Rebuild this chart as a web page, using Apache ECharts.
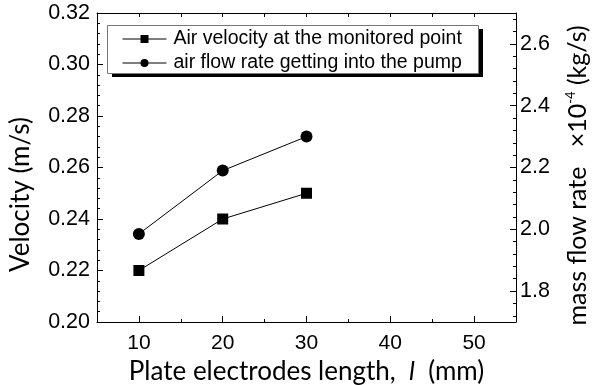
<!DOCTYPE html>
<html>
<head>
<meta charset="utf-8">
<script src="https://cdn.jsdelivr.net/npm/echarts@6/dist/echarts.min.js"></script>
<style>
  html, body { margin: 0; background: #fff; }
  #chart { width: 594px; height: 385px; }
</style>
</head>
<body>
<div id="chart"></div>
<script>
// plate length (mm)
const lengths = [10, 20, 30]
// left axis: air velocity at monitored point (m/s)
const airVelocity = [0.22, 0.24, 0.25]
// right axis: mass flow rate into pump (x1e-4 kg/s)
const massFlow = [1.985, 2.19, 2.30]

const xTicks = [10, 20, 30, 40, 50]
const xMinorTicks = [15, 25, 35, 45]
const xTopTicks = [10, 15, 20, 25, 30, 35, 40, 45, 50]
const rightTicks = [1.8, 2.0, 2.2, 2.4, 2.6]
const rightMinorTicks = [1.72, 1.76, 1.84, 1.88, 1.92, 1.96, 2.04, 2.08, 2.12, 2.16,
  2.24, 2.28, 2.32, 2.36, 2.44, 2.48, 2.52, 2.56, 2.64, 2.68]

const seriesNames = ['Air velocity at the monitored point', 'air flow rate getting into the pump']

const chart = echarts.init(document.getElementById('chart'))

const numFont = 'Liberation Sans'
const titleFont = 'Lato'
const black = '#000'

chart.setOption({
  backgroundColor: '#fff',
  animation: false,
  grid: { left: 97, right: 78, top: 13, bottom: 63, outerBoundsMode: 'none', containLabel: false },
  // legend frame + drop shadow drawn by hand, legend itself is transparent
  graphic: [
    { type: 'rect', left: 112, top: 29, z: 1, shape: { width: 371, height: 48 }, style: { fill: black } },
    { type: 'rect', left: 107, top: 25, z: 2, shape: { width: 371, height: 48 }, style: { fill: '#fff', stroke: '#777', lineWidth: 1 } }
  ],
  legend: {
    data: seriesNames,
    orient: 'vertical',
    left: 122,
    top: 29,
    z: 5,
    padding: 0,
    itemGap: 4,
    itemWidth: 44,
    itemHeight: 10,
    lineStyle: { width: 1 },
    textStyle: { fontFamily: numFont, fontSize: 19.5, color: black, padding: [0, 0, 0, 2] }
  },
  xAxis: [
    {
      type: 'value', min: 5, max: 55, position: 'bottom',
      axisLine: { lineStyle: { color: black, width: 1 } },
      axisTick: { inside: true, length: 6, customValues: xTicks, lineStyle: { color: black } },
      axisLabel: { customValues: xTicks, fontFamily: numFont, fontSize: 21, color: black, margin: 11 },
      splitLine: { show: false },
      name: 'Plate electrodes length,  {i|l}  (mm)',
      nameLocation: 'middle',
      nameGap: 37,
      nameTextStyle: {
        fontFamily: titleFont, fontSize: 26, color: black,
        rich: { i: { fontFamily: titleFont, fontSize: 26, fontStyle: 'italic', color: black } }
      }
    },
    {
      type: 'value', min: 5, max: 55, position: 'bottom',
      axisLine: { show: false },
      axisTick: { inside: true, length: 3, customValues: xMinorTicks, lineStyle: { color: black } },
      axisLabel: { show: false },
      splitLine: { show: false }
    },
    {
      type: 'value', min: 5, max: 55, position: 'top',
      axisLine: { lineStyle: { color: black, width: 1 } },
      axisTick: { inside: true, length: 4, customValues: xTopTicks, lineStyle: { color: black } },
      axisLabel: { show: false },
      splitLine: { show: false }
    }
  ],
  yAxis: [
    {
      type: 'value', min: 0.2, max: 0.32, interval: 0.02, position: 'left',
      axisLine: { show: true, lineStyle: { color: black, width: 1 } },
      axisTick: { inside: true, length: 6, lineStyle: { color: black } },
      minorTick: { show: true, splitNumber: 5, length: 3, lineStyle: { color: black } },
      axisLabel: { fontFamily: numFont, fontSize: 21.5, color: black, margin: 7, formatter: v => v.toFixed(2) },
      splitLine: { show: false },
      name: 'Velocity (m/s)',
      nameLocation: 'middle',
      nameGap: 63,
      nameTextStyle: { fontFamily: titleFont, fontSize: 26, color: black, padding: [0, 54, 0, 0] }
    },
    {
      type: 'value', min: 1.7, max: 2.7, position: 'right',
      axisLine: { show: true, lineStyle: { color: black, width: 1 } },
      axisTick: { inside: true, length: 6, customValues: rightTicks, lineStyle: { color: black } },
      axisLabel: { customValues: rightTicks, fontFamily: numFont, fontSize: 21.5, color: black, margin: 4, formatter: v => v.toFixed(1) },
      splitLine: { show: false },
      name: 'mass flow rate   ×10{sup|-4} (kg/s)',
      nameLocation: 'middle',
      nameRotate: 90,
      nameGap: 48,
      nameTextStyle: {
        fontFamily: titleFont, fontSize: 25, color: black, lineHeight: 28, padding: [0, 16, 0, 0],
        rich: {
          sup: { fontFamily: titleFont, fontSize: 13, color: black, verticalAlign: 'top', lineHeight: 28 }
        }
      }
    },
    {
      type: 'value', min: 1.7, max: 2.7, position: 'right',
      axisLine: { show: false },
      axisTick: { inside: true, length: 3, customValues: rightMinorTicks, lineStyle: { color: black } },
      axisLabel: { show: false },
      splitLine: { show: false }
    }
  ],
  series: [
    {
      name: seriesNames[0],
      type: 'line',
      xAxisIndex: 0,
      yAxisIndex: 0,
      data: lengths.map((x, i) => [x, airVelocity[i]]),
      symbol: 'rect',
      symbolSize: 11,
      itemStyle: { color: black },
      lineStyle: { color: black, width: 1 }
    },
    {
      name: seriesNames[1],
      type: 'line',
      xAxisIndex: 0,
      yAxisIndex: 1,
      data: lengths.map((x, i) => [x, massFlow[i]]),
      symbol: 'circle',
      symbolSize: 12,
      itemStyle: { color: black },
      lineStyle: { color: black, width: 1 }
    }
  ]
})
</script>
</body>
</html>
